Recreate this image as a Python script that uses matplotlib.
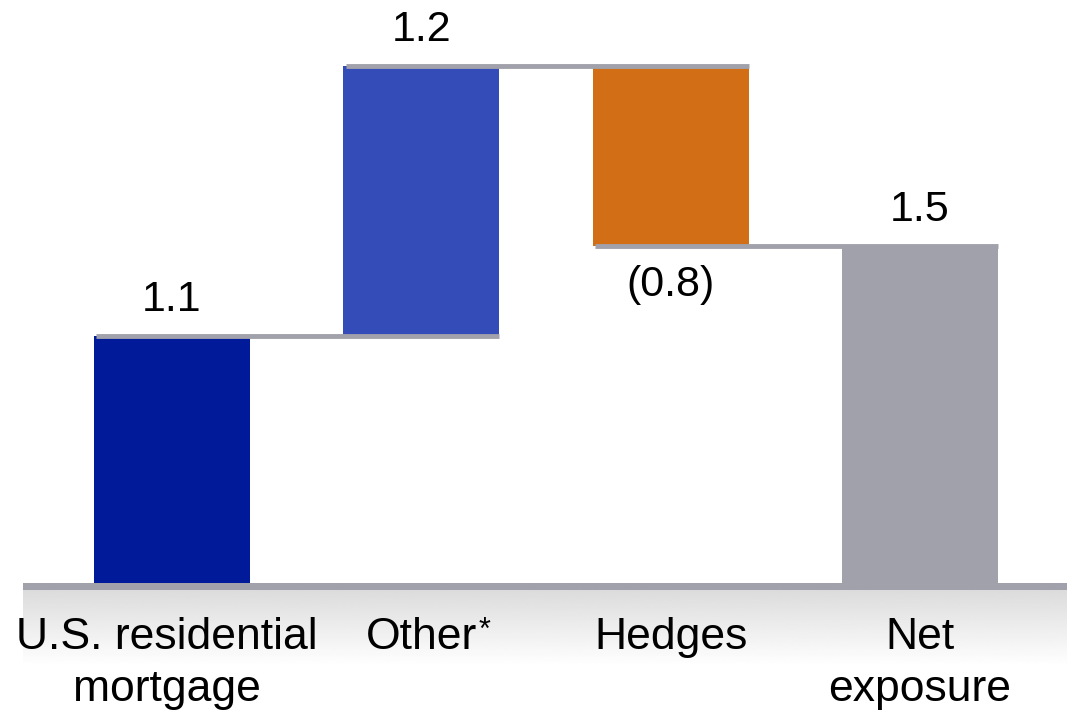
import numpy as np
import matplotlib
matplotlib.use('Agg')
from matplotlib import pyplot as plt

plt.rcParams['font.family'] = ['Liberation Sans', 'DejaVu Sans']

categories = ['U.S. residential\nmortgage', 'Other', 'Hedges', 'Net\nexposure']
changes = [1.1, 1.2, -0.8, 1.5]
value_labels = ['1.1', '1.2', '(0.8)', '1.5']
colors = ['#001a99', '#344cb8', '#d26e16', '#a1a1ab']
line_color = '#a1a1ab'

# waterfall: first and last bars start at zero, the middle ones float
bottoms = [0, changes[0], changes[0] + changes[1], 0]
tops = [b + c for b, c in zip(bottoms, changes)]
x = np.arange(len(categories))
width = 0.626

fig = plt.figure(figsize=(10.67, 7.24), dpi=100)
ax = fig.add_axes([0, 0, 1, 1])
ax.set_xlim(-0.690, 3.590)
ax.set_ylim(-141 / 225, 583 / 225)
ax.axis('off')

# shaded strip under the base line
grad = np.linspace(0.86, 1.0, 100).reshape(-1, 1)
ax.imshow(grad, cmap='gray', vmin=0, vmax=1, aspect='auto',
          extent=(-0.598, 3.590, -0.37, -0.03), zorder=0)
ax.fill_between([-0.598, 3.590], -0.03, 0.0, color=line_color, zorder=3, lw=0)

for i in range(len(categories)):
    lo, hi = sorted([bottoms[i], tops[i]])
    ax.bar(x[i], hi - lo, bottom=lo, width=width, color=colors[i], zorder=2)

# connectors between consecutive bars
for i in range(len(categories) - 1):
    level = tops[i]
    ax.plot([x[i] - width / 2 + 0.01, x[i + 1] + width / 2], [level, level],
            color=line_color, lw=3.5, solid_capstyle='butt', zorder=4)

for i, lab in enumerate(value_labels):
    if changes[i] >= 0:
        ax.annotate(lab, (x[i], tops[i]), xytext=(0, 11), textcoords='offset points',
                    ha='center', va='bottom', fontsize=31)
    else:
        ax.annotate(lab, (x[i], tops[i]), xytext=(0, -14), textcoords='offset points',
                    ha='center', va='top', fontsize=31)

for i, cat in enumerate(categories):
    t = ax.text(x[i] - (0.02 if i == 0 else 0), -0.151, cat, ha='center', va='top',
                fontsize=32, linespacing=1.35)
    if cat == 'Other':
        # superscript footnote mark
        ax.annotate('*', xy=(1, 1), xycoords=t, xytext=(1, 1),
                    textcoords='offset points', ha='left', va='top', fontsize=22)

fig.savefig('out.png', dpi=100)
